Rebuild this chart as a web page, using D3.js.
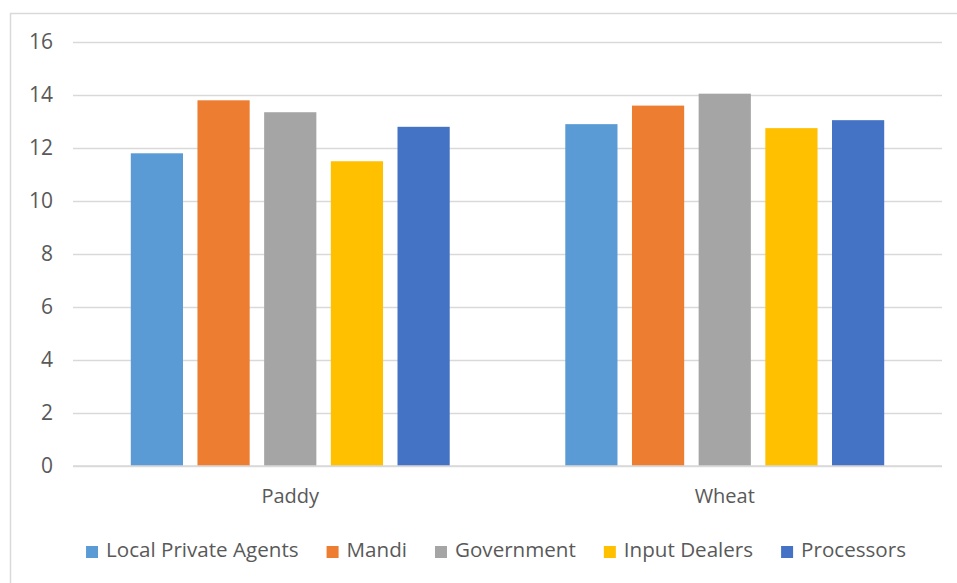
<!DOCTYPE html>
<html>
<head>
<meta charset="utf-8">
<script src="https://cdn.jsdelivr.net/npm/d3@7"></script>
<style>
  html, body { margin: 0; padding: 0; background: #fff; }
  svg { display: block; }
  text { font-family: "Open Sans", "Liberation Sans", Arial, sans-serif; fill: #595959; }
</style>
</head>
<body>
<svg id="chart" width="957" height="583"></svg>
<script>
// Crops and buyer channels
const crops = ["Paddy", "Wheat"];
const channels = ["Local Private Agents", "Mandi", "Government", "Input Dealers", "Processors"];
const colors = ["#5B9BD5", "#ED7D31", "#A5A5A5", "#FFC000", "#4472C4"];

// Values per channel, in crop order
const paddyValues = [11.8, 13.8, 13.35, 11.5, 12.8];
const wheatValues = [12.9, 13.6, 14.05, 12.75, 13.05];

const yTicks = [0, 2, 4, 6, 8, 10, 12, 14, 16];

const rows = crops.map((c, i) => ({
  crop: c,
  values: (i === 0 ? paddyValues : wheatValues)
}));

const FONT = "'Open Sans', 'Liberation Sans', Arial, sans-serif";
const svg = d3.select("#chart");

// Chart frame
svg.append("rect")
  .attr("x", 10.5).attr("y", 13.5)
  .attr("width", 1000).attr("height", 700)
  .attr("fill", "none").attr("stroke", "#d9d9d9").attr("stroke-width", 1.5);

const plot = { left: 73, right: 942, top: 42, bottom: 466 };

const x0 = d3.scaleBand()
  .domain(crops)
  .range([plot.left, plot.right])
  .paddingInner(0.266)
  .paddingOuter(0.133);

const x1 = d3.scaleBand()
  .domain(channels)
  .range([0, x0.bandwidth()])
  .paddingInner(0.217)
  .paddingOuter(0);

const y = d3.scaleLinear().domain([0, 16]).range([plot.bottom, plot.top]);

// Gridlines and value labels
const yAxis = d3.axisLeft(y)
  .tickValues(yTicks)
  .tickSize(-(plot.right - plot.left))
  .tickPadding(20)
  .tickFormat(d3.format("d"));

const gy = svg.append("g")
  .attr("transform", `translate(${plot.left},0)`)
  .call(yAxis);
gy.select(".domain").remove();
gy.selectAll(".tick line").attr("stroke", "#d9d9d9").attr("stroke-width", 1.3);
gy.selectAll(".tick text")
  .attr("font-size", 21)
  .attr("fill", "#595959")
  .style("font-family", FONT);

// Bars
const groups = svg.append("g").selectAll("g")
  .data(rows)
  .join("g")
  .attr("transform", d => `translate(${x0(d.crop)},0)`);

groups.selectAll("rect")
  .data(d => d.values.map((v, i) => ({ channel: channels[i], value: v, color: colors[i] })))
  .join("rect")
  .attr("x", d => x1(d.channel))
  .attr("width", x1.bandwidth())
  .attr("y", d => y(d.value))
  .attr("height", d => y(0) - y(d.value))
  .attr("fill", d => d.color);

// Category axis
const xAxis = d3.axisBottom(x0).tickSize(0).tickPadding(0);
const gx = svg.append("g")
  .attr("transform", `translate(0,${plot.bottom})`)
  .call(xAxis);
gx.select(".domain").attr("stroke", "#d9d9d9").attr("stroke-width", 1.3)
  .attr("d", `M${plot.left},0H${plot.right}`);
gx.selectAll(".tick text")
  .attr("y", 37).attr("dy", null)
  .attr("font-size", 20)
  .attr("fill", "#595959")
  .style("font-family", FONT);

// Legend
const legend = svg.append("g").attr("transform", "translate(0,557)");
const items = legend.selectAll("g")
  .data(channels)
  .join("g");
items.append("rect")
  .attr("y", -11).attr("width", 12).attr("height", 12)
  .attr("fill", (d, i) => colors[i]);
items.append("text")
  .attr("x", 20).attr("y", 0)
  .attr("font-size", 20.6)
  .text(d => d);

const gap = 28;
const widths = [];
items.each(function () { widths.push(this.getBBox().width); });
const total = d3.sum(widths) + gap * (widths.length - 1);
let cursor = 496 - total / 2;
items.attr("transform", (d, i) => {
  const tx = cursor;
  cursor += widths[i] + gap;
  return `translate(${tx},0)`;
});
</script>
</body>
</html>
